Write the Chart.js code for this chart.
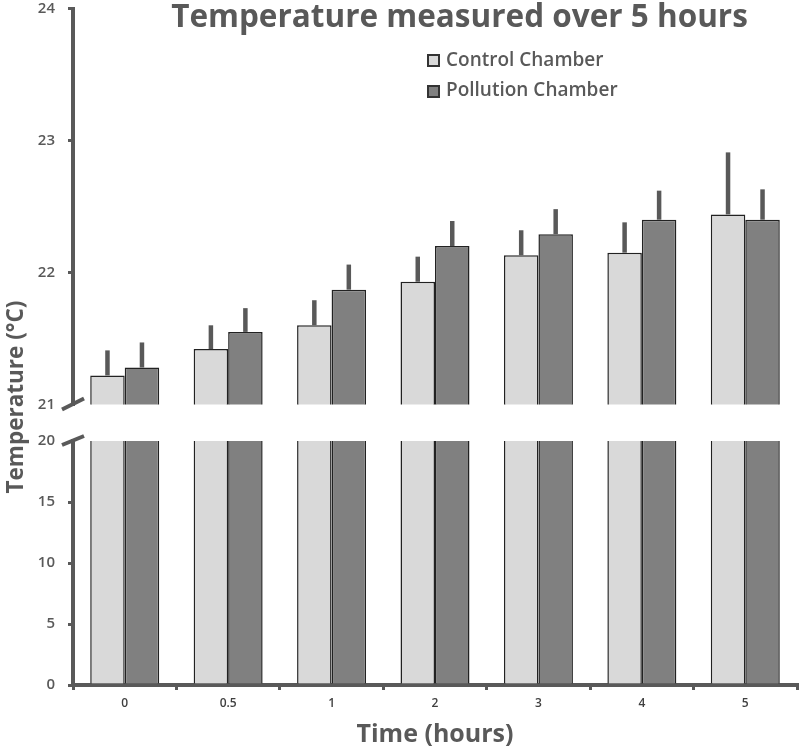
<!DOCTYPE html>
<html><head><meta charset="utf-8">
<script src="https://cdn.jsdelivr.net/npm/chart.js@4.4.1/dist/chart.umd.min.js"></script>
<style>
html,body{margin:0;padding:0;background:#fff;}
#wrap{position:relative;width:800px;height:750px;overflow:hidden;font-family:'Open Sans',sans-serif;color:#595959;}
canvas{position:absolute;left:0;}
#topC{top:0;}
#botC{top:420px;}
#title{position:absolute;left:0;top:-1px;width:919px;text-align:center;font-weight:700;font-size:31.5px;line-height:32px;white-space:nowrap;}
.sw{position:absolute;left:427px;width:13px;height:13px;box-sizing:border-box;border:2px solid #333;}
.lt{position:absolute;left:446px;font-size:19px;line-height:19px;font-weight:600;white-space:nowrap;}
#ytitle{position:absolute;left:-135px;top:382px;width:300px;height:30px;line-height:30px;text-align:center;font-weight:700;font-size:22.5px;transform:rotate(-90deg);white-space:nowrap;}
</style></head>
<body>
<div id="wrap">
<canvas id="topC" width="800" height="420"></canvas>
<canvas id="botC" width="800" height="330"></canvas>
<div id="title">Temperature measured over 5 hours</div>
<div class="sw" style="top:54px;background:#d9d9d9"></div><div class="lt" style="top:50px">Control Chamber</div>
<div class="sw" style="top:85px;background:#808080"></div><div class="lt" style="top:80px">Pollution Chamber</div>
<div id="ytitle">Temperature (°C)</div>
</div>
<script>
const categories = ['0', '0.5', '1', '2', '3', '4', '5'];
const seriesNames = ['Control Chamber', 'Pollution Chamber'];
const control = [21.22, 21.42, 21.60, 21.93, 22.13, 22.15, 22.44];
const pollution = [21.28, 21.55, 21.87, 22.20, 22.29, 22.40, 22.40];
const controlErr = [0.19, 0.18, 0.19, 0.19, 0.19, 0.23, 0.47];
const pollutionErr = [0.19, 0.18, 0.19, 0.19, 0.19, 0.22, 0.23];
const upperTicks = [21, 22, 23, 24];
const lowerTicks = [0, 5, 10, 15, 20];

const AX = '#595959';
const errs = [controlErr, pollutionErr];

function makeDatasets(){
  return [
    {label: seriesNames[0], data: control, backgroundColor:'#d9d9d9', borderColor:'#222', borderWidth:1.5, categoryPercentage:0.667, barPercentage:1.0, clip:0},
    {label: seriesNames[1], data: pollution, backgroundColor:'#808080', borderColor:'#222', borderWidth:1.5, categoryPercentage:0.667, barPercentage:1.0, clip:0}
  ];
}

const errorBars = {
  id:'errorBars',
  afterDatasetsDraw(chart){
    const ctx = chart.ctx, y = chart.scales.y;
    ctx.save();
    ctx.strokeStyle = AX; ctx.lineWidth = 4.5; ctx.lineCap = 'butt';
    chart.data.datasets.forEach((ds,i)=>{
      chart.getDatasetMeta(i).data.forEach((bar,j)=>{
        const top = y.getPixelForValue(ds.data[j] + errs[i][j]);
        ctx.beginPath(); ctx.moveTo(bar.x, bar.y); ctx.lineTo(bar.x, top); ctx.stroke();
      });
    });
    ctx.restore();
  }
};

function breakMark(value, dyA, dyB){
  return {
    id:'breakMark',
    afterDraw(chart){
      const ctx = chart.ctx, y = chart.scales.y;
      const py = y.getPixelForValue(value), px = chart.chartArea.left;
      ctx.save();
      ctx.strokeStyle = AX; ctx.lineWidth = 4; ctx.lineCap='butt';
      ctx.beginPath(); ctx.moveTo(px-11, py+dyA); ctx.lineTo(px+11, py+dyB); ctx.stroke();
      ctx.restore();
    }
  };
}

function yScale(min, max, step, ticksArr, hideVal){
  return {
    min, max,
    afterFit(s){ s.width = 73; s.paddingTop = 0; s.paddingBottom = 0; },
    afterBuildTicks(s){ s.ticks = ticksArr.map(v=>({value:v})); },
    ticks:{ stepSize: step, color: AX, font:{family:'Open Sans', size:15, weight:'600', lineHeight:1}, padding:13 },
    grid:{ drawOnChartArea:false, drawTicks:true, tickLength:5, lineWidth:3,
           color:(c)=> (c.tick && c.tick.value===hideVal) ? 'rgba(0,0,0,0)' : AX },
    border:{ display:true, color: AX, width:4 }
  };
}

new Chart(document.getElementById('topC'), {
  type:'bar',
  data:{ labels: categories, datasets: makeDatasets() },
  options:{
    responsive:false, animation:false, devicePixelRatio:1,
    layout:{ padding:{ top:8.5, bottom:15.5, left:0, right:3 } },
    plugins:{ legend:{display:false}, tooltip:{enabled:false} },
    scales:{
      x:{ type:'category', display:false, grid:{offset:true} },
      y: yScale(21, 24, 1, upperTicks, 21)
    }
  },
  plugins:[errorBars, breakMark(21, 5, -6)]
});

new Chart(document.getElementById('botC'), {
  type:'bar',
  data:{ labels: categories, datasets: makeDatasets() },
  options:{
    responsive:false, animation:false, devicePixelRatio:1,
    layout:{ padding:{ top:21, bottom:0, left:0, right:3 } },
    plugins:{ legend:{display:false}, tooltip:{enabled:false} },
    scales:{
      x:{ type:'category',
          afterFit(s){ s.height = 65; },
          ticks:{ color:'#404040', font:{family:'Open Sans', size:12, weight:'600', lineHeight:1.2}, padding:6 },
          grid:{ offset:true, drawOnChartArea:false, drawTicks:true, tickLength:5, lineWidth:3, color:AX },
          border:{ display:true, color:AX, width:4 },
          title:{ display:true, text:'Time (hours)', color:AX, font:{family:'Open Sans', size:25, weight:'700', lineHeight:1.2}, padding:{top:0,bottom:0} }
      },
      y: yScale(0, 20, 5, lowerTicks, 20)
    }
  },
  plugins:[breakMark(20, 4, -5)]
});
</script>
</body></html>
